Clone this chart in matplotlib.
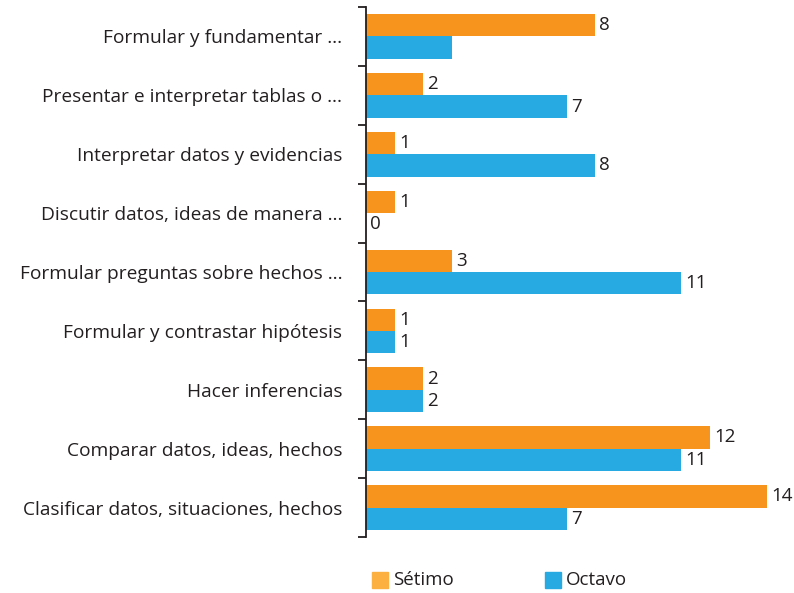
import matplotlib
matplotlib.use("Agg")
import matplotlib.pyplot as plt
import numpy as np
from matplotlib.patches import Rectangle

categories = [
    "Formular y fundamentar …",
    "Presentar e interpretar tablas o …",
    "Interpretar datos y evidencias",
    "Discutir datos, ideas de manera …",
    "Formular preguntas sobre hechos …",
    "Formular y contrastar hipótesis",
    "Hacer inferencias",
    "Comparar datos, ideas, hechos",
    "Clasificar datos, situaciones, hechos",
]
setimo = [8, 2, 1, 1, 3, 1, 2, 12, 14]
octavo = [3, 7, 8, 0, 11, 1, 2, 11, 7]
octavo_labels = ["", "7", "8", "0", "11", "1", "2", "11", "7"]
series_names = ["Sétimo", "Octavo"]

c_orange = "#F7941D"
c_orange_leg = "#FBB040"
c_blue = "#27AAE1"
c_text = "#231F20"

plt.rcParams['font.family'] = ['Open Sans', 'DejaVu Sans']

fig = plt.figure(figsize=(7.94, 5.93), dpi=100)
ax = fig.add_axes([366/794, 1-537/593, (767-366)/794, (537-7)/593])

n = len(categories)
y = np.arange(n)
h = 0.38
ax.barh(y - h/2, setimo, height=h, color=c_orange, zorder=2)
ax.barh(y + h/2, octavo, height=h, color=c_blue, zorder=2)
ax.set_ylim(n - 0.5, -0.5)
ax.set_xlim(0, 14)

for i in range(n):
    ax.annotate(str(setimo[i]), (setimo[i], y[i] - h/2), xytext=(3, 0),
                textcoords="offset points", va="center", ha="left",
                fontsize=13.5, color=c_text, annotation_clip=False)
    if octavo_labels[i]:
        ax.annotate(octavo_labels[i], (octavo[i], y[i] + h/2), xytext=(3, 0),
                    textcoords="offset points", va="center", ha="left",
                    fontsize=13.5, color=c_text, annotation_clip=False)

for s in ["top", "right", "bottom"]:
    ax.spines[s].set_visible(False)
ax.spines["left"].set_color(c_text)
ax.spines["left"].set_linewidth(1.3)
ax.set_xticks([])
ax.set_yticks(np.arange(-0.5, n, 1.0))
ax.set_yticklabels([])
ax.tick_params(axis="y", which="major", length=6, width=1.3, color=c_text)
ax.set_yticks(y, minor=True)
ax.set_yticklabels(categories, minor=True, fontsize=13.8, color=c_text)
ax.tick_params(axis="y", which="minor", length=0, pad=17)

# legend
fig.patches.append(Rectangle((372/794, 1-588/593), 16/794, 16/593,
                             transform=fig.transFigure, color=c_orange_leg))
fig.text(393/794, 1-580/593, series_names[0], fontsize=13.5, va="center", color=c_text)
fig.patches.append(Rectangle((545/794, 1-588/593), 16/794, 16/593,
                             transform=fig.transFigure, color=c_blue))
fig.text(566/794, 1-580/593, series_names[1], fontsize=13.5, va="center", color=c_text)

fig.savefig("out.png", dpi=100)
